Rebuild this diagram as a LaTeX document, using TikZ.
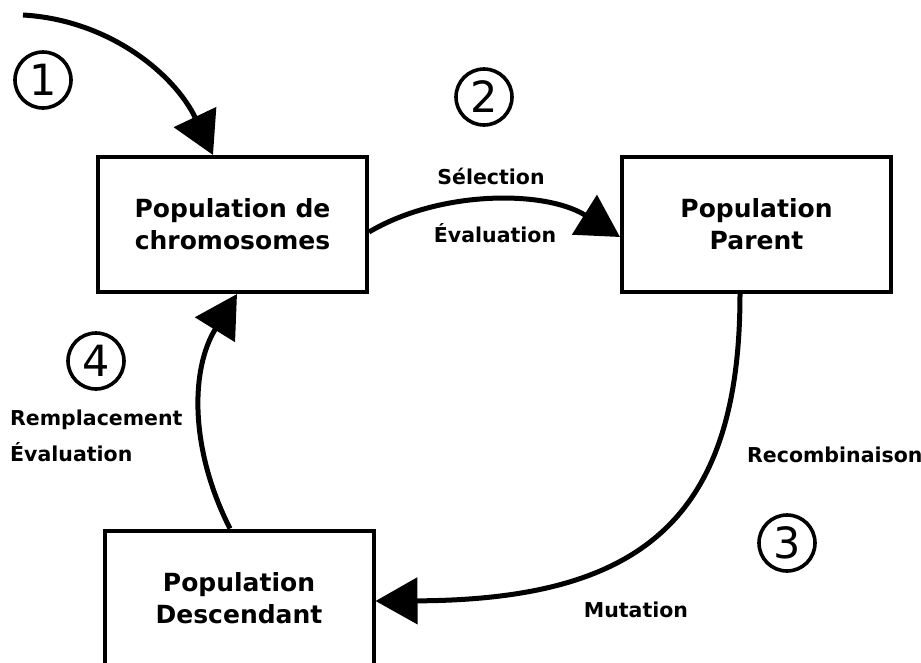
\documentclass[tikz,border=0pt]{standalone}
\usepackage{fontspec}
\setmainfont{DejaVu Sans}
\usetikzlibrary{arrows.meta,calc}
\begin{document}
\begin{tikzpicture}[x=1pt,y=-1pt,
  popbox/.style={draw,line width=4pt,minimum width=269pt,minimum height=135pt,
    inner sep=0pt,align=center,font=\fontsize{25}{32}\selectfont\bfseries},
  flow/.style={line width=5pt,-{Triangle[length=42pt,width=46pt]}},
  steplabel/.style={font=\fontsize{20.5}{24}\selectfont\bfseries,inner sep=0pt},
  stepnum/.style={circle,draw,line width=3.6pt,minimum size=56pt,inner sep=0pt,
    font=\fontsize{43}{43}\selectfont}]
\useasboundingbox (0,0) rectangle (921,662);

% the three populations
\node[popbox] (chromo) at (232.5,224.5) {Population de\\chromosomes};
\node[popbox] (parent) at (756.5,224.5) {Population\\Parent};
\node[popbox] (desc)   at (239,598)     {Population\\Descendant};

% step numbers
\node[stepnum] (n1) at (43,80)   {1};
\node[stepnum] (n2) at (484,97)  {2};
\node[stepnum] (n3) at (787,543) {3};
\node[stepnum] (n4) at (96,361)  {4};

% operation labels
\node[steplabel,anchor=base] (sel)   at (491,184) {Sélection};
\node[steplabel,anchor=base] (evalA) at (495,242) {Évaluation};
\node[steplabel,anchor=base west] (rempl) at (10,425) {Remplacement};
\node[steplabel,anchor=base west] (evalB) at (10,461) {Évaluation};
\node[steplabel,anchor=base west] (recomb) at (747,462) {Recombinaison};
\node[steplabel,anchor=base] (mut) at (636,617) {Mutation};

% flows
\coordinate (init) at (23,15);
\draw[flow] (init) .. controls (110,20) and (175,75) .. ($(chromo.north)+(-19.5,0)$);
\draw[flow] ($(chromo.east)+(0,7.5)$) .. controls (440,190) and (545,190) .. ($(parent.west)+(0,12.5)$);
\draw[flow] ($(parent.south)+(-16.5,0)$) .. controls (740,520) and (640,600) .. ($(desc.east)+(0,3)$);
\draw[flow] ($(desc.north)+(-9,0)$) .. controls (190,450) and (190,370) .. ($(chromo.south)+(4.5,0)$);
\end{tikzpicture}
\end{document}
